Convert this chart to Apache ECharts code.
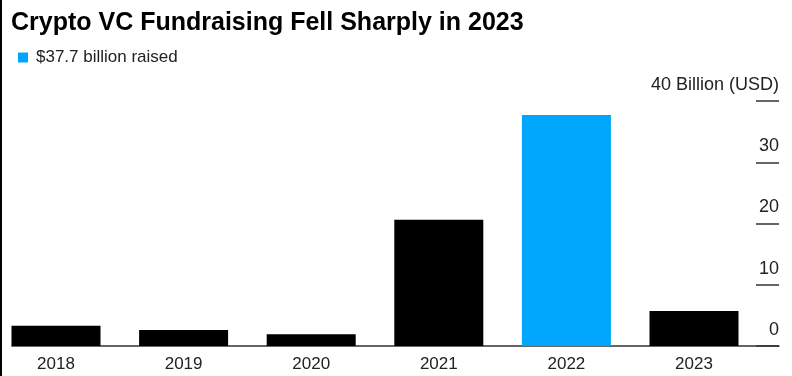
<!DOCTYPE html>
<html>
<head>
<meta charset="utf-8">
<script src="https://cdn.jsdelivr.net/npm/echarts@6/dist/echarts.min.js"></script>
<style>
  html, body { margin: 0; padding: 0; background: #fff; }
  #main { width: 792px; height: 376px; }
</style>
</head>
<body>
<div id="main"></div>
<script>
// values (billion USD)
const years = ['2018', '2019', '2020', '2021', '2022', '2023'];
const raised = [3.3, 2.6, 1.9, 20.6, 37.7, 5.7];
const highlightYear = '2022';
const highlightName = '$37.7 billion raised';
const yTicks = [0, 10, 20, 30, 40];

const blue = '#00a6fb';
const font = 'Liberation Sans, Arial, Helvetica, sans-serif';

let chart = echarts.init(document.getElementById('main'));

// split into the highlighted bar and the rest so the legend only shows one
let blackData = raised.map((v, i) => years[i] === highlightYear ? '-' : v);
let blueData = raised.map((v, i) => years[i] === highlightYear ? v : '-');

let option = {
  backgroundColor: '#fff',
  animation: false,
  textStyle: { fontFamily: font },
  title: {
    text: 'Crypto VC Fundraising Fell Sharply in 2023',
    left: 6,
    top: 6,
    textStyle: { fontSize: 25, fontWeight: 'bold', color: '#000', fontFamily: font }
  },
  legend: {
    data: [highlightName],
    left: 13,
    top: 44,
    icon: 'rect',
    itemWidth: 10,
    itemHeight: 10,
    textStyle: { fontSize: 17, color: '#222', fontFamily: font, padding: [0, 0, 0, 3] }
  },
  graphic: [
    // dark left edge of the frame
    { type: 'rect', left: 0, top: 0, shape: { width: 2, height: 376 }, style: { fill: '#000' } }
  ],
  grid: [
    // bars: category ticks sit on the bar centres
    { left: 56, right: 98, top: 101, bottom: 30 },
    // baseline and the right-hand value ticks
    { left: 12, right: 13, top: 101, bottom: 30 }
  ],
  xAxis: [
    {
      type: 'category',
      gridIndex: 0,
      data: years,
      boundaryGap: false,
      axisLine: { show: false },
      axisTick: { show: false },
      axisLabel: { fontSize: 17, color: '#222', margin: 10, fontFamily: font }
    },
    {
      type: 'value',
      gridIndex: 1,
      axisLine: { show: true, onZero: false, lineStyle: { color: '#333', width: 1.5 } },
      axisTick: { show: false },
      axisLabel: { show: false },
      splitLine: { show: false }
    }
  ],
  yAxis: [
    {
      type: 'value',
      gridIndex: 0,
      min: yTicks[0],
      max: yTicks[yTicks.length - 1],
      interval: 10,
      show: false
    },
    {
      type: 'value',
      gridIndex: 1,
      position: 'right',
      min: yTicks[0],
      max: yTicks[yTicks.length - 1],
      interval: 10,
      axisLine: { show: false, onZero: false },
      axisTick: { show: true, inside: true, length: 23, lineStyle: { color: '#333', width: 1.5 } },
      splitLine: { show: false },
      axisLabel: {
        inside: true,
        margin: 0,
        fontSize: 18,
        color: '#222',
        verticalAlign: 'bottom',
        padding: [0, 0, 7, 0],
        fontFamily: font,
        formatter: function (value) {
          return value === 40 ? '40 Billion (USD)' : String(value);
        }
      }
    }
  ],
  series: [
    {
      name: 'other years',
      type: 'bar',
      xAxisIndex: 0,
      yAxisIndex: 0,
      barWidth: 89,
      barGap: '-100%',
      itemStyle: { color: '#000' },
      data: blackData
    },
    {
      name: highlightName,
      type: 'bar',
      xAxisIndex: 0,
      yAxisIndex: 0,
      barWidth: 89,
      barGap: '-100%',
      itemStyle: { color: blue },
      data: blueData
    }
  ]
};

option && chart.setOption(option);
</script>
</body>
</html>
